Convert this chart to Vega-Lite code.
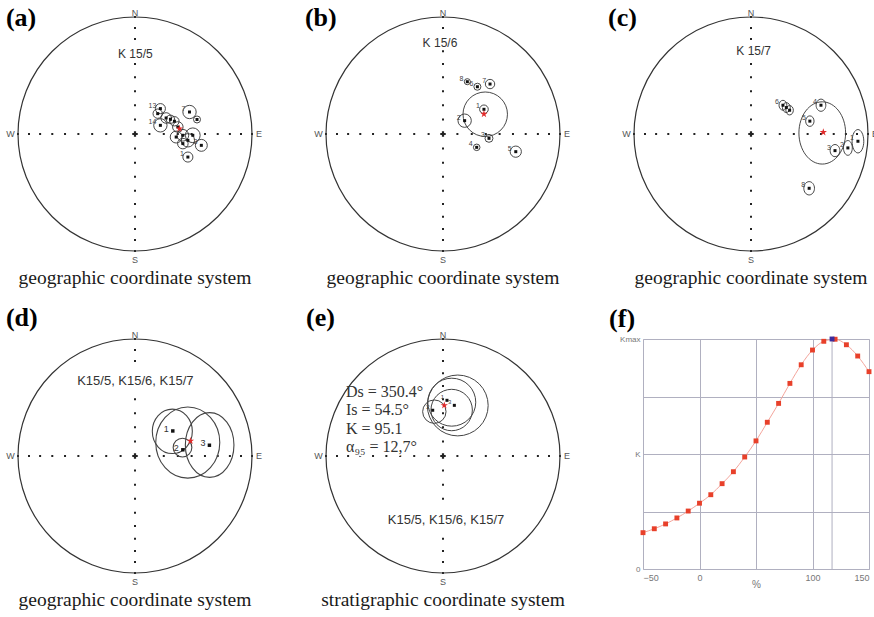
{
"$schema": "https://vega.github.io/schema/vega-lite/v6.json",
"background": "white",
"padding": {"left": 5, "top": 5, "right": 0, "bottom": 0},
"config": {"view": {"stroke": null}, "font": "Liberation Sans"},
"datasets": {
  "net": [
    {"x":0,"y":0.123},{"x":0,"y":0.246},{"x":0,"y":0.366},{"x":0,"y":0.484},{"x":0,"y":0.598},{"x":0,"y":0.707},{"x":0,"y":0.811},{"x":0,"y":0.906},{"x":0,"y":1},
    {"x":0,"y":-0.123},{"x":0,"y":-0.246},{"x":0,"y":-0.366},{"x":0,"y":-0.484},{"x":0,"y":-0.598},{"x":0,"y":-0.707},{"x":0,"y":-0.811},{"x":0,"y":-0.906},{"x":0,"y":-1},
    {"x":0.123,"y":0},{"x":0.246,"y":0},{"x":0.366,"y":0},{"x":0.484,"y":0},{"x":0.598,"y":0},{"x":0.707,"y":0},{"x":0.811,"y":0},{"x":0.906,"y":0},{"x":1,"y":0},
    {"x":-0.123,"y":0},{"x":-0.246,"y":0},{"x":-0.366,"y":0},{"x":-0.484,"y":0},{"x":-0.598,"y":0},{"x":-0.707,"y":0},{"x":-0.811,"y":0},{"x":-0.906,"y":0},{"x":-1,"y":0}
  ],
  "origin": [{"x":0,"y":0}],
  "compass": [{"x":0,"y":1.035,"t":"N"},{"x":0,"y":-1.075,"t":"S"},{"x":1.06,"y":0,"t":"E"},{"x":-1.065,"y":0,"t":"W"}],
  "cap_geo": [{"x":0,"y":-1.285,"t":"geographic coordinate system"}],
  "cap_strat": [{"x":0,"y":-1.285,"t":"stratigraphic coordinate system"}],
  "lab_a": [{"x":-1.103,"y":0.923,"t":"(a)"}],
  "lab_b": [{"x":-1.18,"y":0.923,"t":"(b)"}],
  "lab_c": [{"x":-1.222,"y":0.923,"t":"(c)"}],
  "lab_d": [{"x":-1.103,"y":1.111,"t":"(d)"}],
  "lab_e": [{"x":-1.171,"y":1.111,"t":"(e)"}],
  "lab_f": [{"pct":-80,"k":1.052,"t":"(f)"}],
  "a_txt": [{"x":0.003,"y":0.687,"t":"K 15/5"}],
  "b_txt": [{"x":-0.026,"y":0.775,"t":"K 15/6"}],
  "c_txt": [{"x":0.023,"y":0.707,"t":"K 15/7"}],
  "d_txt": [{"x":0.003,"y":0.644,"t":"K15/5, K15/6, K15/7"}],
  "e_txt": [{"x":0.026,"y":-0.547,"t":"K15/5, K15/6, K15/7"}],
  "e_stats": [{"x":-0.829,"y":0.547,"t":"Ds = 350.4°"},{"x":-0.829,"y":0.389,"t":"Is = 54.5°"},{"x":-0.829,"y":0.231,"t":"K = 95.1"},{"x":-0.829,"y":0.073,"t":"α₉₅ = 12,7°"}],
  "a_sites": [
    {"x":0.217,"y":0.217,"n":"13"},{"x":0.194,"y":0.174,"n":""},{"x":0.266,"y":0.137,"n":""},{"x":0.217,"y":0.074,"n":"14"},
    {"x":0.303,"y":0.126,"n":""},{"x":0.337,"y":0.109,"n":""},{"x":0.366,"y":0.060,"n":""},{"x":0.466,"y":0.188,"n":"7"},
    {"x":0.53,"y":0.124,"n":""},{"x":0.352,"y":-0.026,"n":""},{"x":0.409,"y":-0.011,"n":""},{"x":0.452,"y":-0.054,"n":""},
    {"x":0.409,"y":-0.082,"n":""},{"x":0.567,"y":-0.097,"n":"3"},{"x":0.452,"y":-0.197,"n":"1"},{"x":0.494,"y":-0.011,"n":""}
  ],
  "a_cones": [
    {"x":0.217,"y":0.217,"r":0.043,"form":"c"},{"x":0.194,"y":0.174,"r":0.04,"form":"c"},{"x":0.266,"y":0.137,"r":0.045,"form":"c"},{"x":0.217,"y":0.074,"r":0.057,"form":"c"},
    {"x":0.303,"y":0.126,"r":0.035,"form":"c"},{"x":0.337,"y":0.109,"r":0.04,"form":"c"},{"x":0.366,"y":0.060,"r":0.045,"form":"c"},{"x":0.466,"y":0.188,"r":0.057,"form":"c"},
    {"x":0.53,"y":0.124,"r":0.03,"form":"c"},{"x":0.352,"y":-0.026,"r":0.051,"form":"c"},{"x":0.409,"y":-0.011,"r":0.05,"form":"c"},{"x":0.452,"y":-0.054,"r":0.057,"form":"c"},
    {"x":0.409,"y":-0.082,"r":0.045,"form":"c"},{"x":0.567,"y":-0.097,"r":0.051,"form":"c"},{"x":0.452,"y":-0.197,"r":0.043,"form":"c"},{"x":0.494,"y":-0.011,"r":0.063,"form":"c"}
  ],
  "a_mean": [{"x":0.38,"y":0.046}],
  "b_sites": [
    {"x":0.208,"y":0.447,"n":"8"},{"x":0.294,"y":0.404,"n":"6"},{"x":0.402,"y":0.427,"n":"7"},{"x":0.35,"y":0.211,"n":"1"},
    {"x":0.185,"y":0.114,"n":"2"},{"x":0.393,"y":-0.037,"n":"3"},{"x":0.288,"y":-0.114,"n":"4"},{"x":0.622,"y":-0.151,"n":"5"}
  ],
  "b_cones": [
    {"x":0.208,"y":0.447,"r":0.026,"form":"c"},{"x":0.294,"y":0.404,"r":0.03,"form":"c"},{"x":0.402,"y":0.427,"r":0.04,"form":"c"},{"x":0.35,"y":0.211,"r":0.037,"form":"c"},
    {"x":0.185,"y":0.114,"r":0.057,"form":"c"},{"x":0.393,"y":-0.037,"r":0.034,"form":"c"},{"x":0.288,"y":-0.114,"r":0.028,"form":"c"},{"x":0.622,"y":-0.151,"r":0.048,"form":"c"},
    {"x":0.361,"y":0.169,"r":0.19,"form":"c"}
  ],
  "b_mean": [{"x":0.35,"y":0.171}],
  "c_sites": [
    {"x":0.273,"y":0.246,"n":"6"},{"x":0.302,"y":0.226,"n":""},{"x":0.33,"y":0.203,"n":""},{"x":0.598,"y":0.246,"n":"4"},
    {"x":0.503,"y":0.11,"n":"5"},{"x":0.718,"y":-0.142,"n":"3"},{"x":0.828,"y":-0.119,"n":"2"},{"x":0.914,"y":-0.062,"n":"1"},{"x":0.497,"y":-0.464,"n":"8"}
  ],
  "c_cones": [
    {"x":0.273,"y":0.246,"r":0.042,"form":"v80"},{"x":0.302,"y":0.226,"r":0.042,"form":"v80"},{"x":0.33,"y":0.203,"r":0.04,"form":"v80"},{"x":0.598,"y":0.246,"r":0.052,"form":"v80"},
    {"x":0.503,"y":0.11,"r":0.045,"form":"v80"},{"x":0.718,"y":-0.142,"r":0.052,"form":"v80"},{"x":0.828,"y":-0.119,"r":0.063,"form":"v60"},{"x":0.914,"y":-0.062,"r":0.1,"form":"v50"},
    {"x":0.497,"y":-0.464,"r":0.057,"form":"v80"},{"x":0.609,"y":0.009,"r":0.266,"form":"v75"}
  ],
  "c_mean": [{"x":0.618,"y":0.015}],
  "d_sites": [{"x":0.323,"y":0.214,"n":"1"},{"x":0.409,"y":0.053,"n":"2"},{"x":0.636,"y":0.092,"n":"3"}],
  "d_cones": [
    {"x":0.319,"y":0.211,"r":0.19,"form":"v90"},{"x":0.451,"y":0.115,"r":0.304,"form":"v90"},{"x":0.638,"y":0.094,"r":0.277,"form":"v75"},{"x":0.406,"y":0.072,"r":0.08,"form":"c"}
  ],
  "d_mean": [{"x":0.474,"y":0.129}],
  "e_sites": [{"x":-0.088,"y":0.391,"n":"2"},{"x":0.034,"y":0.476,"n":"1"},{"x":0.097,"y":0.433,"n":"3"}],
  "e_cones": [
    {"x":0.126,"y":0.432,"r":0.26,"form":"c"},{"x":0.075,"y":0.46,"r":0.205,"form":"c"},{"x":0.074,"y":0.393,"r":0.177,"form":"c"},{"x":-0.074,"y":0.379,"r":0.1,"form":"c"}
  ],
  "e_mean": [{"x":0.011,"y":0.433}],
  "fold": [
    {"pct":-50,"k":0.158},{"pct":-40,"k":0.175},{"pct":-30,"k":0.196},{"pct":-20,"k":0.222},{"pct":-10,"k":0.252},
    {"pct":0,"k":0.286},{"pct":10,"k":0.323},{"pct":20,"k":0.371},{"pct":30,"k":0.423},{"pct":40,"k":0.487},
    {"pct":50,"k":0.557},{"pct":60,"k":0.638},{"pct":70,"k":0.72},{"pct":80,"k":0.807},{"pct":90,"k":0.888},
    {"pct":100,"k":0.952},{"pct":110,"k":0.99},{"pct":120,"k":0.999},{"pct":130,"k":0.975},{"pct":140,"k":0.926},{"pct":150,"k":0.858}
  ],
  "kmax": [{"pct":117.3,"k":1.0}]
},
"bounds": "flush",
"spacing": 322,
"vconcat": [
 {"bounds": "flush", "spacing": 74, "hconcat": [
  {"width": 234, "height": 234,
   "encoding": {"x": {"field":"x","type":"quantitative","scale":{"domain":[-1,1],"nice":false,"zero":false},"axis":null},
                "y": {"field":"y","type":"quantitative","scale":{"domain":[-1,1],"nice":false,"zero":false},"axis":null}},
   "layer": [
    {"data":{"name":"net"},"mark":{"type":"square","size":4,"color":"#222","opacity":1}},
    {"data":{"name":"origin"},"mark":{"type":"point","shape":"cross","size":30,"filled":true,"color":"#222","opacity":1}},
    {"data":{"name":"a_txt"},"mark":{"type":"text","fontSize":12,"fill":"white","stroke":"white","strokeWidth":6},"encoding":{"text":{"field":"t"}}},
    {"data":{"name":"a_txt"},"mark":{"type":"text","fontSize":12,"fill":"#333"},"encoding":{"text":{"field":"t"}}},
    {"data":{"name":"origin"},"mark":{"type":"point","shape":"circle","size":54756,"filled":false,"stroke":"#333","strokeWidth":1.2,"opacity":1}},
    {"data":{"name":"a_cones"},"mark":{"type":"point","shape":"circle","filled":false,"stroke":"#333","strokeWidth":0.9,"opacity":1},
     "encoding":{"size":{"field":"r","type":"quantitative","scale":{"type":"pow","exponent":2,"domain":[0,1],"range":[0,54756]},"legend":null}}},
    {"data":{"name":"a_sites"},"mark":{"type":"square","size":9,"color":"#111","opacity":1}},
    {"data":{"name":"a_sites"},"mark":{"type":"text","fontSize":7,"align":"right","dx":-4,"dy":-3,"fill":"#444"},"encoding":{"text":{"field":"n"}}},
    {"data":{"name":"a_mean"},"mark":{"type":"point","shape":"M0,-1L0.225,-0.309L0.951,-0.309L0.363,0.118L0.588,0.809L0,0.382L-0.588,0.809L-0.363,0.118L-0.951,-0.309L-0.225,-0.309Z","size":60,"filled":true,"color":"#e02a2a","opacity":1}},
    {"data":{"name":"compass"},"mark":{"type":"text","fontSize":9,"fill":"#555"},"encoding":{"text":{"field":"t"}}},
    {"data":{"name":"lab_a"},"mark":{"type":"text","font":"Liberation Serif","fontSize":26,"fontWeight":"bold","align":"left","baseline":"alphabetic","fill":"#000"},"encoding":{"text":{"field":"t"}}},
    {"data":{"name":"cap_geo"},"mark":{"type":"text","font":"Liberation Serif","fontSize":19.5,"align":"center","baseline":"alphabetic","fill":"#1a1a1a"},"encoding":{"text":{"field":"t"}}}
   ]},
  {"width": 234, "height": 234,
   "encoding": {"x": {"field":"x","type":"quantitative","scale":{"domain":[-1,1],"nice":false,"zero":false},"axis":null},
                "y": {"field":"y","type":"quantitative","scale":{"domain":[-1,1],"nice":false,"zero":false},"axis":null}},
   "layer": [
    {"data":{"name":"net"},"mark":{"type":"square","size":4,"color":"#222","opacity":1}},
    {"data":{"name":"origin"},"mark":{"type":"point","shape":"cross","size":30,"filled":true,"color":"#222","opacity":1}},
    {"data":{"name":"b_txt"},"mark":{"type":"text","fontSize":12,"fill":"white","stroke":"white","strokeWidth":6},"encoding":{"text":{"field":"t"}}},
    {"data":{"name":"b_txt"},"mark":{"type":"text","fontSize":12,"fill":"#333"},"encoding":{"text":{"field":"t"}}},
    {"data":{"name":"origin"},"mark":{"type":"point","shape":"circle","size":54756,"filled":false,"stroke":"#333","strokeWidth":1.2,"opacity":1}},
    {"data":{"name":"b_cones"},"mark":{"type":"point","shape":"circle","filled":false,"stroke":"#333","strokeWidth":0.9,"opacity":1},
     "encoding":{"size":{"field":"r","type":"quantitative","scale":{"type":"pow","exponent":2,"domain":[0,1],"range":[0,54756]},"legend":null}}},
    {"data":{"name":"b_sites"},"mark":{"type":"square","size":9,"color":"#111","opacity":1}},
    {"data":{"name":"b_sites"},"mark":{"type":"text","fontSize":7,"align":"right","dx":-4,"dy":-3,"fill":"#444"},"encoding":{"text":{"field":"n"}}},
    {"data":{"name":"b_mean"},"mark":{"type":"point","shape":"M0,-1L0.225,-0.309L0.951,-0.309L0.363,0.118L0.588,0.809L0,0.382L-0.588,0.809L-0.363,0.118L-0.951,-0.309L-0.225,-0.309Z","size":60,"filled":true,"color":"#e02a2a","opacity":1}},
    {"data":{"name":"compass"},"mark":{"type":"text","fontSize":9,"fill":"#555"},"encoding":{"text":{"field":"t"}}},
    {"data":{"name":"lab_b"},"mark":{"type":"text","font":"Liberation Serif","fontSize":26,"fontWeight":"bold","align":"left","baseline":"alphabetic","fill":"#000"},"encoding":{"text":{"field":"t"}}},
    {"data":{"name":"cap_geo"},"mark":{"type":"text","font":"Liberation Serif","fontSize":19.5,"align":"center","baseline":"alphabetic","fill":"#1a1a1a"},"encoding":{"text":{"field":"t"}}}
   ]},
  {"width": 234, "height": 234,
   "encoding": {"x": {"field":"x","type":"quantitative","scale":{"domain":[-1,1],"nice":false,"zero":false},"axis":null},
                "y": {"field":"y","type":"quantitative","scale":{"domain":[-1,1],"nice":false,"zero":false},"axis":null}},
   "layer": [
    {"data":{"name":"net"},"mark":{"type":"square","size":4,"color":"#222","opacity":1}},
    {"data":{"name":"origin"},"mark":{"type":"point","shape":"cross","size":30,"filled":true,"color":"#222","opacity":1}},
    {"data":{"name":"c_txt"},"mark":{"type":"text","fontSize":12,"fill":"white","stroke":"white","strokeWidth":6},"encoding":{"text":{"field":"t"}}},
    {"data":{"name":"c_txt"},"mark":{"type":"text","fontSize":12,"fill":"#333"},"encoding":{"text":{"field":"t"}}},
    {"data":{"name":"origin"},"mark":{"type":"point","shape":"circle","size":54756,"filled":false,"stroke":"#333","strokeWidth":1.2,"opacity":1}},
    {"data":{"name":"c_cones"},"mark":{"type":"point","filled":false,"stroke":"#333","strokeWidth":0.9,"opacity":1},
     "encoding":{"size":{"field":"r","type":"quantitative","scale":{"type":"pow","exponent":2,"domain":[0,1],"range":[0,54756]},"legend":null},
                 "shape":{"field":"form","type":"nominal","scale":{"domain":["c","v90","v80","v75","v60","v50"],"range":["circle","M0,-1C0.497,-1,0.9,-0.552,0.9,0C0.9,0.552,0.497,1,0,1C-0.497,1,-0.9,0.552,-0.9,0C-0.9,-0.552,-0.497,-1,0,-1Z","M0,-1C0.442,-1,0.8,-0.552,0.8,0C0.8,0.552,0.442,1,0,1C-0.442,1,-0.8,0.552,-0.8,0C-0.8,-0.552,-0.442,-1,0,-1Z","M0,-1C0.414,-1,0.75,-0.552,0.75,0C0.75,0.552,0.414,1,0,1C-0.414,1,-0.75,0.552,-0.75,0C-0.75,-0.552,-0.414,-1,0,-1Z","M0,-1C0.331,-1,0.6,-0.552,0.6,0C0.6,0.552,0.331,1,0,1C-0.331,1,-0.6,0.552,-0.6,0C-0.6,-0.552,-0.331,-1,0,-1Z","M0,-1C0.276,-1,0.5,-0.552,0.5,0C0.5,0.552,0.276,1,0,1C-0.276,1,-0.5,0.552,-0.5,0C-0.5,-0.552,-0.276,-1,0,-1Z"]},"legend":null}}},
    {"data":{"name":"c_sites"},"mark":{"type":"square","size":9,"color":"#111","opacity":1}},
    {"data":{"name":"c_sites"},"mark":{"type":"text","fontSize":7,"align":"right","dx":-4,"dy":-3,"fill":"#444"},"encoding":{"text":{"field":"n"}}},
    {"data":{"name":"c_mean"},"mark":{"type":"point","shape":"M0,-1L0.225,-0.309L0.951,-0.309L0.363,0.118L0.588,0.809L0,0.382L-0.588,0.809L-0.363,0.118L-0.951,-0.309L-0.225,-0.309Z","size":60,"filled":true,"color":"#e02a2a","opacity":1}},
    {"data":{"name":"compass"},"mark":{"type":"text","fontSize":9,"fill":"#555"},"encoding":{"text":{"field":"t"}}},
    {"data":{"name":"lab_c"},"mark":{"type":"text","font":"Liberation Serif","fontSize":26,"fontWeight":"bold","align":"left","baseline":"alphabetic","fill":"#000"},"encoding":{"text":{"field":"t"}}},
    {"data":{"name":"cap_geo"},"mark":{"type":"text","font":"Liberation Serif","fontSize":19.5,"align":"center","baseline":"alphabetic","fill":"#1a1a1a"},"encoding":{"text":{"field":"t"}}}
   ]}
 ]},
 {"bounds": "flush", "spacing": 74, "hconcat": [
  {"width": 234, "height": 234,
   "encoding": {"x": {"field":"x","type":"quantitative","scale":{"domain":[-1,1],"nice":false,"zero":false},"axis":null},
                "y": {"field":"y","type":"quantitative","scale":{"domain":[-1,1],"nice":false,"zero":false},"axis":null}},
   "layer": [
    {"data":{"name":"net"},"mark":{"type":"square","size":4,"color":"#222","opacity":1}},
    {"data":{"name":"origin"},"mark":{"type":"point","shape":"cross","size":30,"filled":true,"color":"#222","opacity":1}},
    {"data":{"name":"d_txt"},"mark":{"type":"text","fontSize":13,"fill":"white","stroke":"white","strokeWidth":8},"encoding":{"text":{"field":"t"}}},
    {"data":{"name":"d_txt"},"mark":{"type":"text","fontSize":13,"fill":"#333"},"encoding":{"text":{"field":"t"}}},
    {"data":{"name":"origin"},"mark":{"type":"point","shape":"circle","size":54756,"filled":false,"stroke":"#333","strokeWidth":1.2,"opacity":1}},
    {"data":{"name":"d_cones"},"mark":{"type":"point","filled":false,"stroke":"#444","strokeWidth":1.1,"opacity":1},
     "encoding":{"size":{"field":"r","type":"quantitative","scale":{"type":"pow","exponent":2,"domain":[0,1],"range":[0,54756]},"legend":null},
                 "shape":{"field":"form","type":"nominal","scale":{"domain":["c","v90","v80","v75","v60","v50"],"range":["circle","M0,-1C0.497,-1,0.9,-0.552,0.9,0C0.9,0.552,0.497,1,0,1C-0.497,1,-0.9,0.552,-0.9,0C-0.9,-0.552,-0.497,-1,0,-1Z","M0,-1C0.442,-1,0.8,-0.552,0.8,0C0.8,0.552,0.442,1,0,1C-0.442,1,-0.8,0.552,-0.8,0C-0.8,-0.552,-0.442,-1,0,-1Z","M0,-1C0.414,-1,0.75,-0.552,0.75,0C0.75,0.552,0.414,1,0,1C-0.414,1,-0.75,0.552,-0.75,0C-0.75,-0.552,-0.414,-1,0,-1Z","M0,-1C0.331,-1,0.6,-0.552,0.6,0C0.6,0.552,0.331,1,0,1C-0.331,1,-0.6,0.552,-0.6,0C-0.6,-0.552,-0.331,-1,0,-1Z","M0,-1C0.276,-1,0.5,-0.552,0.5,0C0.5,0.552,0.276,1,0,1C-0.276,1,-0.5,0.552,-0.5,0C-0.5,-0.552,-0.276,-1,0,-1Z"]},"legend":null}}},
    {"data":{"name":"d_sites"},"mark":{"type":"square","size":12,"color":"#111","opacity":1}},
    {"data":{"name":"d_sites"},"mark":{"type":"text","fontSize":9,"align":"right","dx":-4,"dy":-2,"fill":"#333"},"encoding":{"text":{"field":"n"}}},
    {"data":{"name":"d_mean"},"mark":{"type":"point","shape":"M0,-1L0.225,-0.309L0.951,-0.309L0.363,0.118L0.588,0.809L0,0.382L-0.588,0.809L-0.363,0.118L-0.951,-0.309L-0.225,-0.309Z","size":60,"filled":true,"color":"#e02a2a","opacity":1}},
    {"data":{"name":"compass"},"mark":{"type":"text","fontSize":9,"fill":"#555"},"encoding":{"text":{"field":"t"}}},
    {"data":{"name":"lab_d"},"mark":{"type":"text","font":"Liberation Serif","fontSize":26,"fontWeight":"bold","align":"left","baseline":"alphabetic","fill":"#000"},"encoding":{"text":{"field":"t"}}},
    {"data":{"name":"cap_geo"},"mark":{"type":"text","font":"Liberation Serif","fontSize":19.5,"align":"center","baseline":"alphabetic","fill":"#1a1a1a"},"encoding":{"text":{"field":"t"}}}
   ]},
  {"bounds": "flush", "spacing": 83, "hconcat": [
   {"width": 234, "height": 234,
    "encoding": {"x": {"field":"x","type":"quantitative","scale":{"domain":[-1,1],"nice":false,"zero":false},"axis":null},
                 "y": {"field":"y","type":"quantitative","scale":{"domain":[-1,1],"nice":false,"zero":false},"axis":null}},
    "layer": [
     {"data":{"name":"net"},"mark":{"type":"square","size":4,"color":"#222","opacity":1}},
     {"data":{"name":"origin"},"mark":{"type":"point","shape":"cross","size":30,"filled":true,"color":"#222","opacity":1}},
     {"data":{"name":"e_txt"},"mark":{"type":"text","fontSize":13,"fill":"white","stroke":"white","strokeWidth":10},"encoding":{"text":{"field":"t"}}},
     {"data":{"name":"e_txt"},"mark":{"type":"text","fontSize":13,"fill":"#333"},"encoding":{"text":{"field":"t"}}},
     {"data":{"name":"e_stats"},"mark":{"type":"text","font":"Liberation Serif","fontSize":16,"align":"left","fill":"white","stroke":"white","strokeWidth":3},"encoding":{"text":{"field":"t"}}},
     {"data":{"name":"e_stats"},"mark":{"type":"text","font":"Liberation Serif","fontSize":16,"align":"left","fill":"#333"},"encoding":{"text":{"field":"t"}}},
     {"data":{"name":"origin"},"mark":{"type":"point","shape":"circle","size":54756,"filled":false,"stroke":"#333","strokeWidth":1.2,"opacity":1}},
     {"data":{"name":"e_cones"},"mark":{"type":"point","shape":"circle","filled":false,"stroke":"#444","strokeWidth":1,"opacity":1},
      "encoding":{"size":{"field":"r","type":"quantitative","scale":{"type":"pow","exponent":2,"domain":[0,1],"range":[0,54756]},"legend":null}}},
     {"data":{"name":"e_sites"},"mark":{"type":"square","size":9,"color":"#111","opacity":1}},
     {"data":{"name":"e_sites"},"mark":{"type":"text","fontSize":6,"align":"right","dx":-3,"dy":-3,"fill":"#444"},"encoding":{"text":{"field":"n"}}},
     {"data":{"name":"e_mean"},"mark":{"type":"point","shape":"M0,-1L0.225,-0.309L0.951,-0.309L0.363,0.118L0.588,0.809L0,0.382L-0.588,0.809L-0.363,0.118L-0.951,-0.309L-0.225,-0.309Z","size":60,"filled":true,"color":"#e02a2a","opacity":1}},
     {"data":{"name":"compass"},"mark":{"type":"text","fontSize":9,"fill":"#555"},"encoding":{"text":{"field":"t"}}},
     {"data":{"name":"lab_e"},"mark":{"type":"text","font":"Liberation Serif","fontSize":26,"fontWeight":"bold","align":"left","baseline":"alphabetic","fill":"#000"},"encoding":{"text":{"field":"t"}}},
     {"data":{"name":"cap_strat"},"mark":{"type":"text","font":"Liberation Serif","fontSize":19.5,"align":"center","baseline":"alphabetic","fill":"#1a1a1a"},"encoding":{"text":{"field":"t"}}}
    ]},
   {"width": 226, "height": 230, "view": {"stroke": "#c8c8d0"},
    "layer": [
     {"data":{"name":"fold"},"mark":{"type":"line","interpolate":"monotone","color":"#f4a59c","strokeWidth":1},
      "encoding": {
       "x": {"field":"pct","type":"quantitative","scale":{"domain":[-50,150],"nice":false,"zero":false},
             "axis":{"values":[-50,0,50,100,150],"labelExpr":"datum.value == 50 ? '' : datum.label","labelFontSize":9,"labelColor":"#777","labelPadding":4,"ticks":false,"domain":false,"grid":true,"gridColor":"#b0b0c0",
                     "title":"%","titleFontSize":10,"titleFontWeight":"normal","titleColor":"#777","titlePadding":-3}},
       "y": {"field":"k","type":"quantitative","scale":{"domain":[0,1],"nice":false,"zero":false},
             "axis":{"values":[0,0.25,0.5,0.75,1],"labelExpr":"datum.value == 1 ? 'Kmax' : datum.value == 0.5 ? 'K' : datum.value == 0 ? '0' : ''","labelFontSize":8,"labelColor":"#777","labelPadding":3,"ticks":false,"domain":false,"grid":true,"gridColor":"#b0b0c0","title":null}}
      }},
     {"data":{"name":"kmax"},"mark":{"type":"rule","color":"#b0b0c0","strokeWidth":1},"encoding":{"x":{"field":"pct","type":"quantitative"}}},
     {"data":{"name":"fold"},"mark":{"type":"square","size":24,"color":"#e8402a","opacity":1},"encoding":{"x":{"field":"pct","type":"quantitative"},"y":{"field":"k","type":"quantitative"}}},
     {"data":{"name":"kmax"},"mark":{"type":"square","size":24,"color":"#3c2c9c","opacity":1},"encoding":{"x":{"field":"pct","type":"quantitative"},"y":{"field":"k","type":"quantitative"}}},
     {"data":{"name":"lab_f"},"mark":{"type":"text","font":"Liberation Serif","fontSize":26,"fontWeight":"bold","align":"left","baseline":"alphabetic","fill":"#000"},"encoding":{"x":{"field":"pct","type":"quantitative"},"y":{"field":"k","type":"quantitative"},"text":{"field":"t"}}}
    ]}
  ]}
 ]}
]
}
